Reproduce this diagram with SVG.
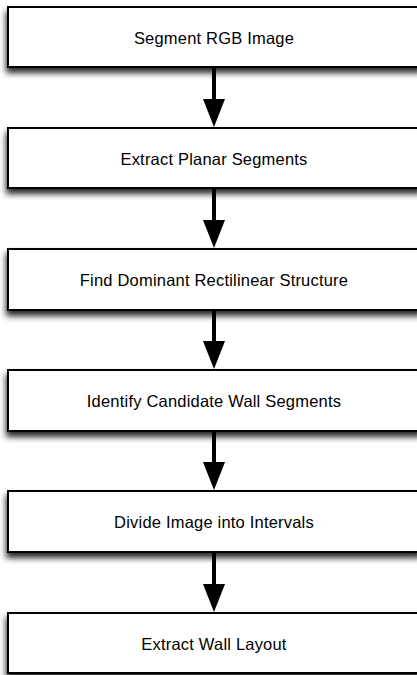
<svg xmlns="http://www.w3.org/2000/svg" width="417" height="675" viewBox="0 0 417 675">
<defs>
<filter id="sh" x="-10%" y="-30%" width="120%" height="170%">
<feGaussianBlur in="SourceAlpha" stdDeviation="3"/>
<feOffset dx="-1.5" dy="5" result="b"/>
<feComponentTransfer><feFuncA type="linear" slope="0.85"/></feComponentTransfer>
<feMerge><feMergeNode/><feMergeNode in="SourceGraphic"/></feMerge>
</filter>
<style>
.box{fill:#fff;stroke:#000;stroke-width:2;filter:url(#sh)}
.lbl{font-family:"Liberation Sans",Arial,sans-serif;font-size:16.5px;letter-spacing:0.2px;fill:#000;text-anchor:middle}
.con{stroke:#000;stroke-width:4;fill:none}
</style>
</defs>
<rect width="417" height="675" fill="#fff"/>
<g id="n1"><rect class="box" x="8" y="7" width="414" height="60"/><text class="lbl" x="214" y="43.5">Segment RGB Image</text></g>
<g id="n2"><rect class="box" x="8" y="128" width="414" height="60"/><text class="lbl" x="214" y="164.5">Extract Planar Segments</text></g>
<g id="n3"><rect class="box" x="8" y="249" width="414" height="61"/><text class="lbl" x="214" y="286">Find Dominant Rectilinear Structure</text></g>
<g id="n4"><rect class="box" x="8" y="370" width="414" height="61"/><text class="lbl" x="214" y="407">Identify Candidate Wall Segments</text></g>
<g id="n5"><rect class="box" x="8" y="491" width="414" height="61"/><text class="lbl" x="214" y="528">Divide Image into Intervals</text></g>
<g id="n6"><rect class="box" x="8" y="613" width="414" height="60"/><text class="lbl" x="214" y="649.5">Extract Wall Layout</text></g>
<g id="connectors">
<path class="con" d="M214,68 V100" /><path d="M203,99 H225 L214,127 Z"/>
<path class="con" d="M214,189 V221" /><path d="M203,220 H225 L214,248 Z"/>
<path class="con" d="M214,311 V342" /><path d="M203,341 H225 L214,369 Z"/>
<path class="con" d="M214,432 V463" /><path d="M203,462 H225 L214,490 Z"/>
<path class="con" d="M214,553 V585" /><path d="M203,584 H225 L214,612 Z"/>
</g>
</svg>
